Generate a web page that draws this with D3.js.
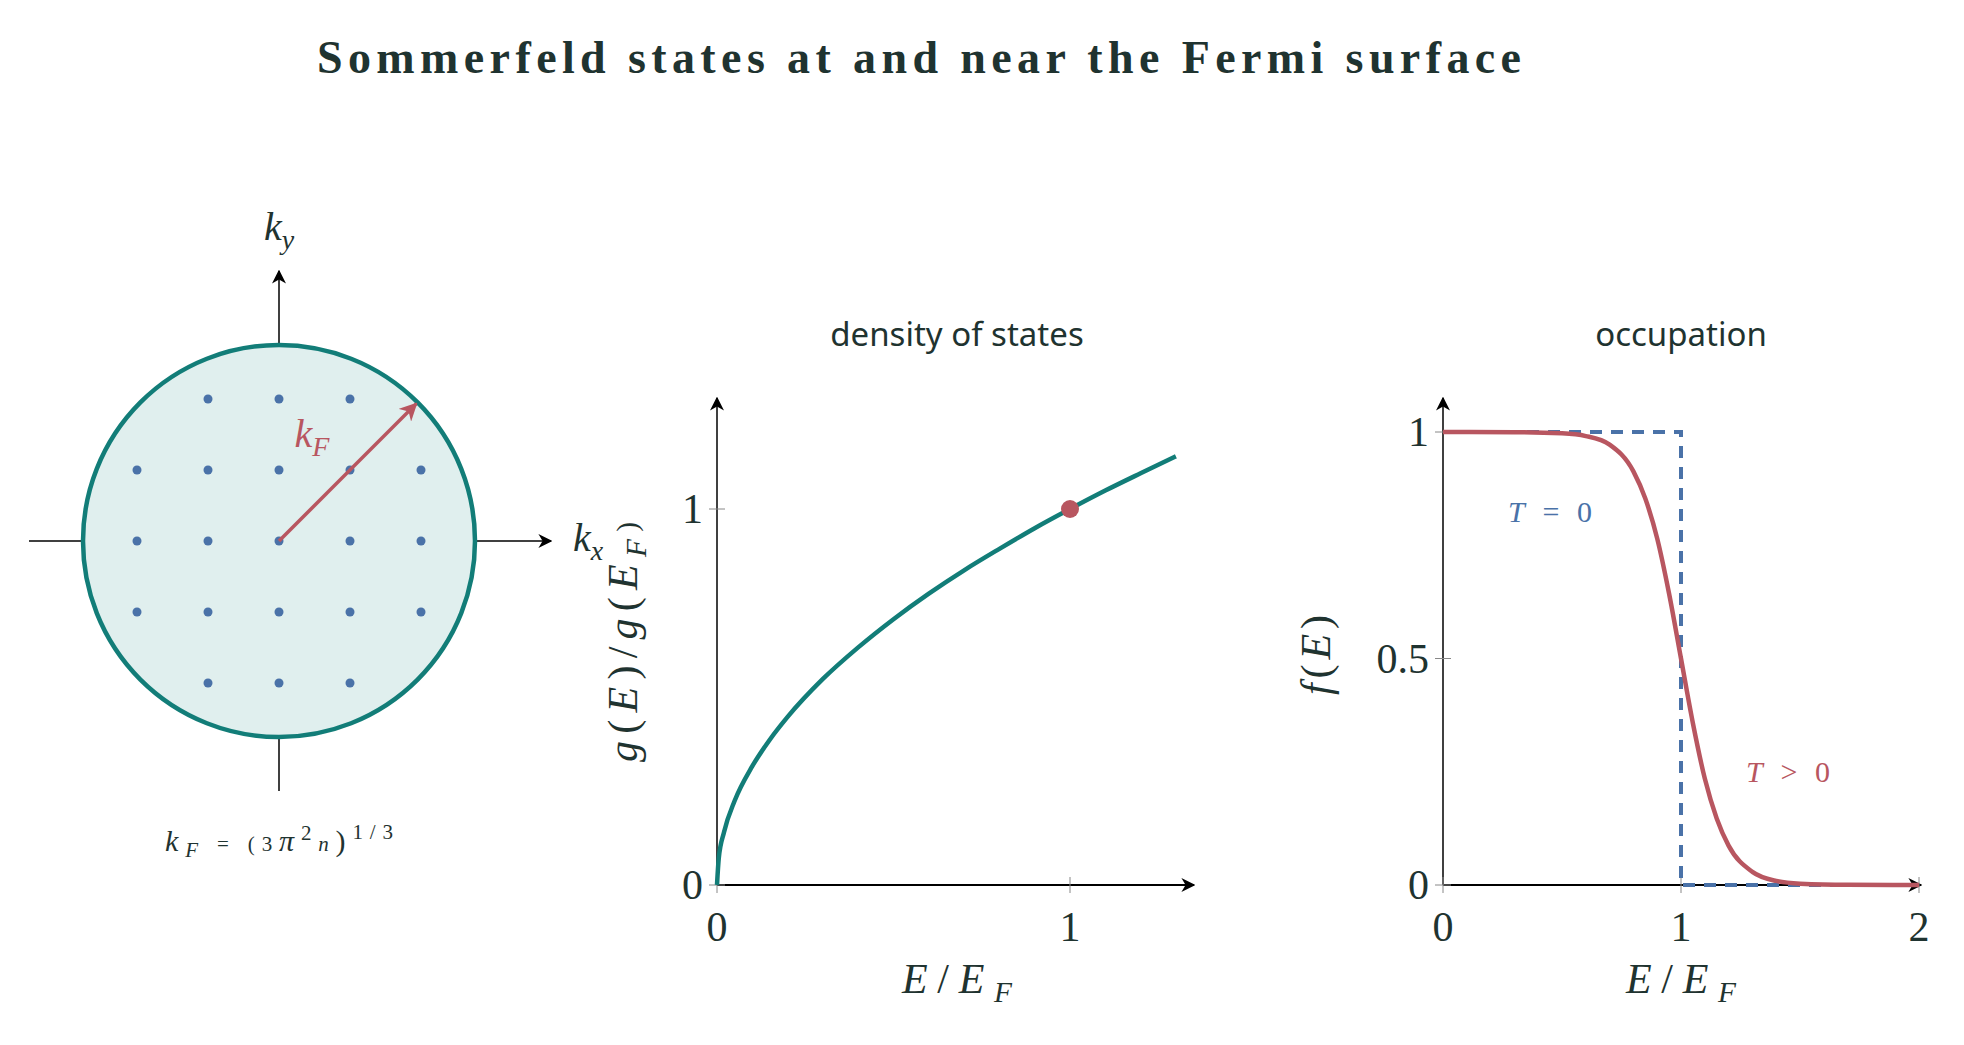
<!DOCTYPE html>
<html><head><meta charset="utf-8">
<script src="https://cdn.jsdelivr.net/npm/d3@7"></script>
<style>body{margin:0;background:#fff}text{fill:#1f3330}</style>
</head><body><svg id="c" width="1964" height="1045"></svg>
<script>
var TEAL = "#127d78", RED = "#b85660", BLUE = "#4a72a8", INK = "#1f3330";
var MATH = "Liberation Serif", SANS = "Noto Sans";

// lattice of k-states (grid units), corners left out
var latI = [-1,0,1, -2,-1,0,1,2, -2,-1,0,1,2, -2,-1,0,1,2, -1,0,1];
var latJ = [2,2,2, 1,1,1,1,1, 0,0,0,0,0, -1,-1,-1,-1,-1, -2,-2,-2];

// density of states
var gX = [0,0.005,0.02,0.05,0.1,0.15,0.2,0.3,0.4,0.5,0.6,0.7,0.8,0.9,1,1.1,1.2,1.3];
var gY = [0,0.071,0.141,0.224,0.316,0.387,0.447,0.548,0.632,0.707,0.775,0.837,0.894,0.949,1,1.049,1.095,1.140];
var gTicksX = [0,1], gTicksY = [0,1];

// occupation
var fX = [0,0.3,0.5,0.6,0.7,0.8,0.85,0.9,0.95,1,1.05,1.1,1.15,1.2,1.3,1.4,1.5,1.7,2];
var fY = [1,0.9997,0.997,0.991,0.972,0.913,0.853,0.765,0.643,0.5,0.357,0.235,0.147,0.087,0.029,0.009,0.003,0.0003,0];
var stepX = [0,1,1,2], stepY = [1,1,0,0];
var fTicksX = [0,1,2], fTicksY = [0,0.5,1];

var svg = d3.select("#c");
var defs = svg.append("defs");
function marker(id, col, w) {
  defs.append("marker").attr("id", id).attr("viewBox", "0 0 10 10").attr("refX", 9).attr("refY", 5)
    .attr("markerWidth", w).attr("markerHeight", w).attr("markerUnits", "userSpaceOnUse").attr("orient", "auto")
    .append("path").attr("d", "M0,0 L10,5 L0,10 L3,5 Z").attr("fill", col);
}
marker("ab", "#000", 14); marker("ar", RED, 18);

svg.append("text").attr("x", 919).attr("y", 73).attr("text-anchor", "middle")
  .attr("font-family", MATH).attr("font-weight", "bold").attr("font-size", 46)
  .attr("textLength", 1204).attr("lengthAdjust", "spacing").text("Sommerfeld states at and near the Fermi surface");

// ---- Fermi sphere panel
var cx = 279, cy = 541, R = 196, sp = 71;
var kx = d3.scaleLinear().domain([-1, 1]).range([cx - sp, cx + sp]);
var ky = d3.scaleLinear().domain([-1, 1]).range([cy + sp, cy - sp]);
svg.append("line").attr("x1", 29).attr("y1", cy).attr("x2", 551).attr("y2", cy).attr("stroke", "#000").attr("stroke-width", 1.5).attr("marker-end", "url(#ab)");
svg.append("line").attr("x1", cx).attr("y1", 791).attr("x2", cx).attr("y2", 271).attr("stroke", "#000").attr("stroke-width", 1.5).attr("marker-end", "url(#ab)");
svg.append("circle").attr("cx", cx).attr("cy", cy).attr("r", R).attr("fill", "#e0efee").attr("stroke", TEAL).attr("stroke-width", 4.5);
svg.selectAll(".dot").data(latI).enter().append("circle")
  .attr("cx", function(d) { return kx(d); }).attr("cy", function(d, i) { return ky(latJ[i]); })
  .attr("r", 4.5).attr("fill", BLUE);
var a = Math.PI / 4;
svg.append("line").attr("x1", cx).attr("y1", cy).attr("x2", cx + R * 0.99 * Math.cos(a)).attr("y2", cy - R * 0.99 * Math.sin(a))
  .attr("stroke", RED).attr("stroke-width", 3.5).attr("marker-end", "url(#ar)");
function mk(x, y, size, col, parts, anchor, rot, len) {
  var t = svg.append("text").attr("x", x).attr("y", y).attr("font-family", MATH).attr("font-size", size)
    .attr("text-anchor", anchor || "middle").style("fill", col || INK);
  if (rot) t.attr("transform", "rotate(" + rot + "," + x + "," + y + ")");
  if (len) t.attr("textLength", len).attr("lengthAdjust", "spacing");
  parts.forEach(function(p) {
    var s = t.append("tspan").text(p[0]);
    if (p[1]) s.attr("font-style", "italic");
    if (p[2]) s.attr("font-size", size * 0.7).attr("dy", p[2]);
  });
  return t;
}
mk(279, 240, 40, INK, [["k",1],["y",1,9]]);
mk(588, 551, 40, INK, [["k",1],["x",1,9]]);
mk(312, 447, 40, RED, [["k",1],["F",1,9]]);
mk(279, 851, 30, INK, [["k",1],["F",1,6],[" = (3",0,-6],["π",1],["2",0,-11],["n",1,11],[")",0],["1/3",0,-12]], "middle", 0, 228);

// ---- axis helper
function panel(x0, y0, xs, ys, xTicks, yTicks, xEnd, yEnd) {
  var g = svg.append("g");
  g.append("line").attr("x1", x0).attr("y1", y0).attr("x2", xEnd).attr("y2", y0).attr("stroke", "#000").attr("stroke-width", 2).attr("marker-end", "url(#ab)");
  g.append("line").attr("x1", x0).attr("y1", y0).attr("x2", x0).attr("y2", yEnd).attr("stroke", "#000").attr("stroke-width", 1.5).attr("marker-end", "url(#ab)");
  xTicks.forEach(function(t) {
    g.append("line").attr("x1", xs(t)).attr("x2", xs(t)).attr("y1", y0 - 8).attr("y2", y0 + 8).attr("stroke", "#888").attr("stroke-width", 1);
    g.append("text").attr("x", xs(t)).attr("y", y0 + 56).attr("text-anchor", "middle").attr("font-family", MATH).attr("font-size", 42).text(t);
  });
  yTicks.forEach(function(t) {
    g.append("line").attr("y1", ys(t)).attr("y2", ys(t)).attr("x1", x0 - 8).attr("x2", x0 + 8).attr("stroke", "#888").attr("stroke-width", 1);
    g.append("text").attr("x", x0 - 14).attr("y", ys(t) + 14).attr("text-anchor", "end").attr("font-family", MATH).attr("font-size", 42).text(t);
  });
}

// ---- density of states
var gx = d3.scaleLinear().domain([0, 1]).range([717, 1070]);
var gy = d3.scaleLinear().domain([0, 1]).range([885, 509]);
panel(717, 885, gx, gy, gTicksX, gTicksY, 1194, 398);
svg.append("path").datum(gX).attr("fill", "none").attr("stroke", TEAL).attr("stroke-width", 4.5)
  .attr("d", d3.line().x(function(d) { return gx(d); }).y(function(d, i) { return gy(gY[i]); }).curve(d3.curveMonotoneX));
svg.append("circle").attr("cx", gx(1)).attr("cy", gy(1)).attr("r", 9).attr("fill", RED);
svg.append("text").attr("x", 957).attr("y", 346).attr("text-anchor", "middle").attr("font-family", SANS).attr("font-size", 33).text("density of states");
mk(957, 993, 42, INK, [["E",1],["/",0],["E",1],["F",1,9]], "middle", 0, 110);
mk(637, 642, 42, INK, [["g",1],["(",0],["E",1],[")/",0],["g",1],["(",0],["E",1],["F",1,9],[")",0,-9]], "middle", -90, 240);

// ---- occupation
var fx = d3.scaleLinear().domain([0, 2]).range([1443, 1919]);
var fy = d3.scaleLinear().domain([0, 1]).range([885, 432]);
panel(1443, 885, fx, fy, fTicksX, fTicksY, 1921, 398);
svg.append("path").datum(stepX).attr("fill", "none").attr("stroke", BLUE).attr("stroke-width", 4).attr("stroke-dasharray", "12,9")
  .attr("d", d3.line().x(function(d) { return fx(d); }).y(function(d, i) { return fy(stepY[i]); }));
svg.append("path").datum(fX).attr("fill", "none").attr("stroke", RED).attr("stroke-width", 4.5)
  .attr("d", d3.line().x(function(d) { return fx(d); }).y(function(d, i) { return fy(fY[i]); }).curve(d3.curveMonotoneX));
svg.append("text").attr("x", 1681).attr("y", 346).attr("text-anchor", "middle").attr("font-family", SANS).attr("font-size", 33).text("occupation");
mk(1550, 522, 30, BLUE, [["T",1],[" = 0",0]], "middle", 0, 84);
mk(1788, 782, 30, RED, [["T",1],[" > 0",0]], "middle", 0, 84);
mk(1681, 993, 42, INK, [["E",1],["/",0],["E",1],["F",1,9]], "middle", 0, 110);
mk(1330, 655, 42, INK, [["f",1],["(",0],["E",1],[")",0]], "middle", -90, 80);
</script></body></html>
